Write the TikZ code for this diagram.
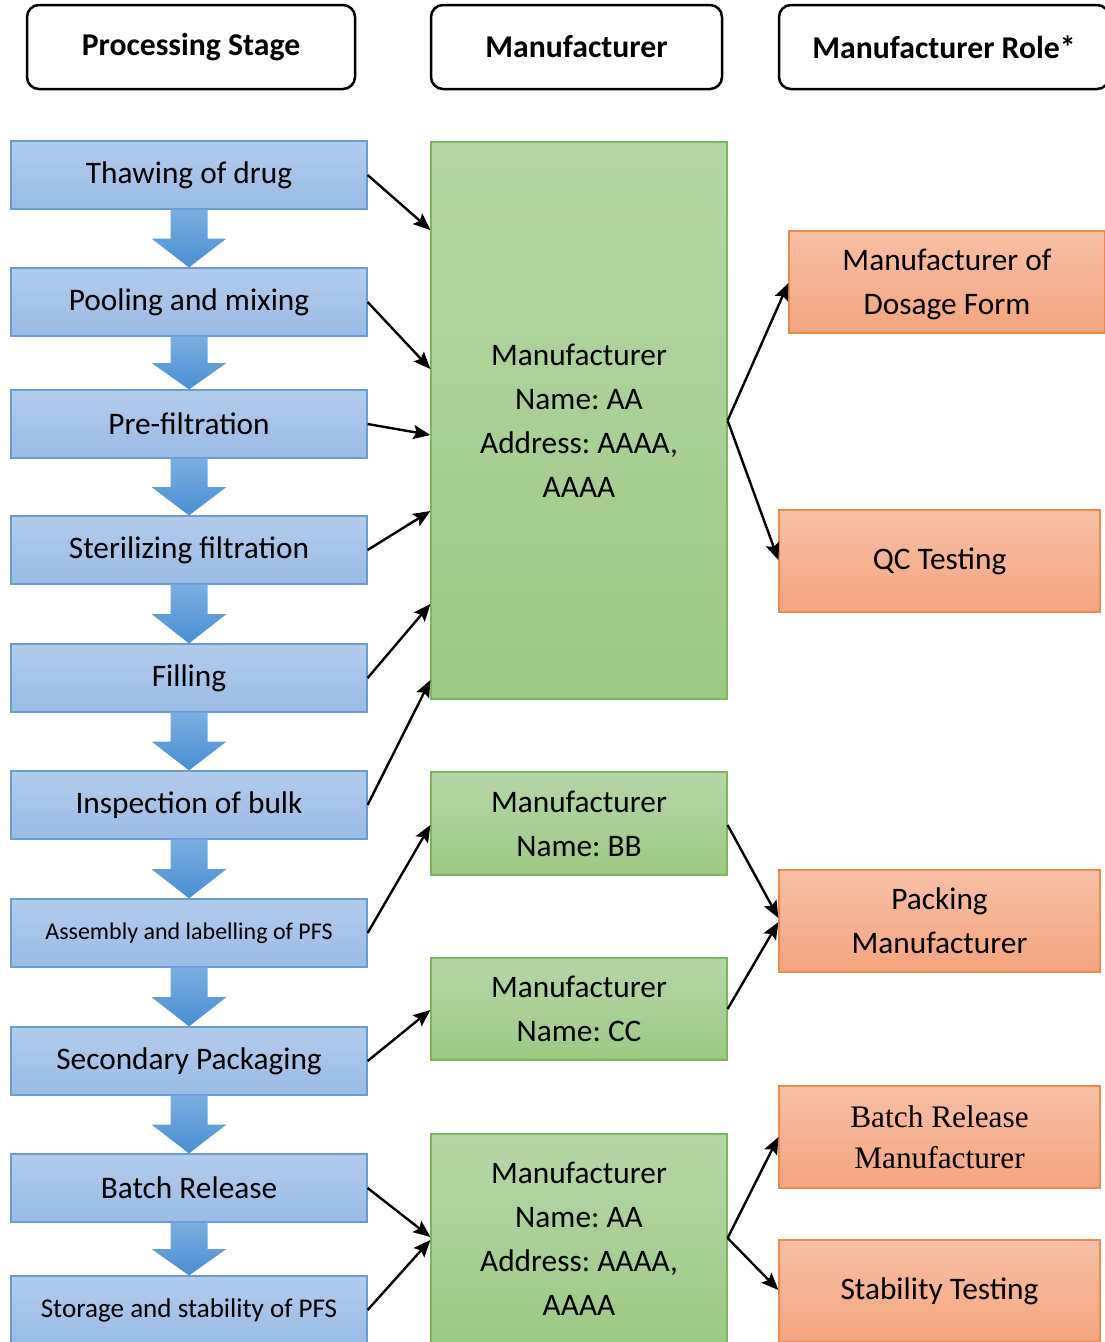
\documentclass[tikz,border=0pt]{standalone}
\usepackage{fontspec}
\setmainfont{Carlito}
\newfontfamily\serifrole{Liberation Serif}
\usetikzlibrary{arrows.meta,calc}
\frenchspacing
\def\px{0.75pt}
\definecolor{stageline}{HTML}{6A9BD8}
\definecolor{stagetop}{HTML}{B2CCEB}
\definecolor{stagebot}{HTML}{9ABBE5}
\definecolor{flowtop}{HTML}{7BAEE0}
\definecolor{flowbot}{HTML}{4A8ED4}
\definecolor{makerline}{HTML}{7DB65E}
\definecolor{makertop}{HTML}{B6D6A7}
\definecolor{makerbot}{HTML}{9CC984}
\definecolor{roleline}{HTML}{EE8A4E}
\definecolor{roletop}{HTML}{F8BFA6}
\definecolor{rolebot}{HTML}{F4A47F}
\tikzset{
  header/.style={draw, line width=2.5*\px, rounded corners=12*\px, minimum height=84*\px,
    inner sep=0pt, font=\fontsize{23.8}{28}\selectfont\bfseries},
  stage/.style={draw=stageline, line width=1.2*\px, top color=stagetop, bottom color=stagebot,
    minimum width=356*\px, minimum height=68*\px, inner sep=0pt, font=\fontsize{23.5}{28}\selectfont},
  maker/.style={draw=makerline, line width=1.2*\px, top color=makertop, bottom color=makerbot,
    minimum width=296*\px, inner sep=0pt, align=center, font=\fontsize{23.5}{33}\selectfont},
  role/.style={draw=roleline, line width=1.2*\px, top color=roletop, bottom color=rolebot,
    minimum width=321*\px, minimum height=102*\px, inner sep=0pt, align=center,
    font=\fontsize{23.5}{33}\selectfont},
  link/.style={line width=2.4*\px, -{Stealth[length=17*\px, width=14*\px, inset=3*\px]}},
}
\begin{document}
\begin{tikzpicture}[x=\px, y=-\px]
\useasboundingbox (0,0) rectangle (1105,1342);

% column headers
\node[header, minimum width=328*\px] (h1) at (191,47) {Processing Stage};
\node[header, minimum width=291*\px] (h2) at (576.5,47) {Manufacturer};
\node[header, minimum width=330*\px] (h3) at (944,47) {Manufacturer Role*};

% processing stages
\node[stage] (s1) at (189,175) {Thawing of drug};
\node[stage] (s2) at (189,302) {Pooling and mixing};
\node[stage] (s3) at (189,424) {Pre-filtration};
\node[stage] (s4) at (189,550) {Sterilizing filtration};
\node[stage] (s5) at (189,678) {Filling};
\node[stage] (s6) at (189,805) {Inspection of bulk};
\node[stage, font=\fontsize{18}{22}\selectfont] (s7) at (189,933) {Assembly and labelling of PFS};
\node[stage] (s8) at (189,1061) {Secondary Packaging};
\node[stage] (s9) at (189,1188) {Batch Release};
\node[stage, font=\fontsize{20.3}{24}\selectfont] (s10) at (189,1310) {Storage and stability of PFS};

\foreach \a/\b in {s1/s2, s2/s3, s3/s4, s4/s5, s5/s6, s6/s7, s7/s8, s8/s9, s9/s10}{
  \coordinate (m) at ($(\a.south)!0.5!(\b.north)$);
  \path[top color=flowtop, bottom color=flowbot]
    ([xshift=-18.5*\px]\a.south) -- ([xshift=18.5*\px]\a.south) -- ([xshift=18.5*\px]m)
    -- ([xshift=37.5*\px]m) -- (\b.north) -- ([xshift=-37.5*\px]m) -- ([xshift=-18.5*\px]m) -- cycle;
}

% manufacturers
\node[maker, minimum height=557*\px] (gA) at (579,420.5) {Manufacturer\\Name: AA\\Address: AAAA,\\AAAA};
\node[maker, minimum height=103*\px] (gB) at (579,823.5) {Manufacturer\\Name: BB};
\node[maker, minimum height=102*\px] (gC) at (579,1009) {Manufacturer\\Name: CC};
\node[maker, minimum height=210*\px] (gD) at (579,1239) {Manufacturer\\Name: AA\\Address: AAAA,\\AAAA};

% roles
\node[role, minimum width=316*\px, text depth=-4*\px] (r1) at (947,282) {Manufacturer of\\Dosage Form};
\node[role] (r2) at (939.5,561) {QC Testing};
\node[role] (r3) at (939.5,921) {Packing\\Manufacturer};
\node[role, font=\fontsize{23.5}{31}\selectfont\serifrole] (r4) at (939.5,1137) {Batch Release\\Manufacturer};
\node[role] (r5) at (939.5,1291) {Stability Testing};

% stage -> manufacturer
\foreach \i/\ty in {1/230, 2/369, 3/435, 4/511, 5/604, 6/680}
  \draw[link] (s\i.east) -- (gA.west |- 0,\ty);
\draw[link] (s7.east) -- (gB.west |- 0,825);
\draw[link] (s8.east) -- (gC.west |- 0,1010);
\draw[link] (s9.east) -- (gD.west |- 0,1237);
\draw[link] (s10.east) -- (gD.west |- 0,1240);

% manufacturer -> role
\draw[link] (gA.east) -- (r1.west |- 0,283);
\draw[link] (gA.east) -- (r2.west |- 0,560);
\draw[link] (gB.east |- 0,825) -- (r3.west |- 0,918);
\draw[link] (gC.east) -- (r3.west |- 0,922);
\draw[link] (gD.east |- 0,1238) -- (r4.west |- 0,1137);
\draw[link] (gD.east |- 0,1238) -- (r5.west |- 0,1290);
\end{tikzpicture}
\end{document}
